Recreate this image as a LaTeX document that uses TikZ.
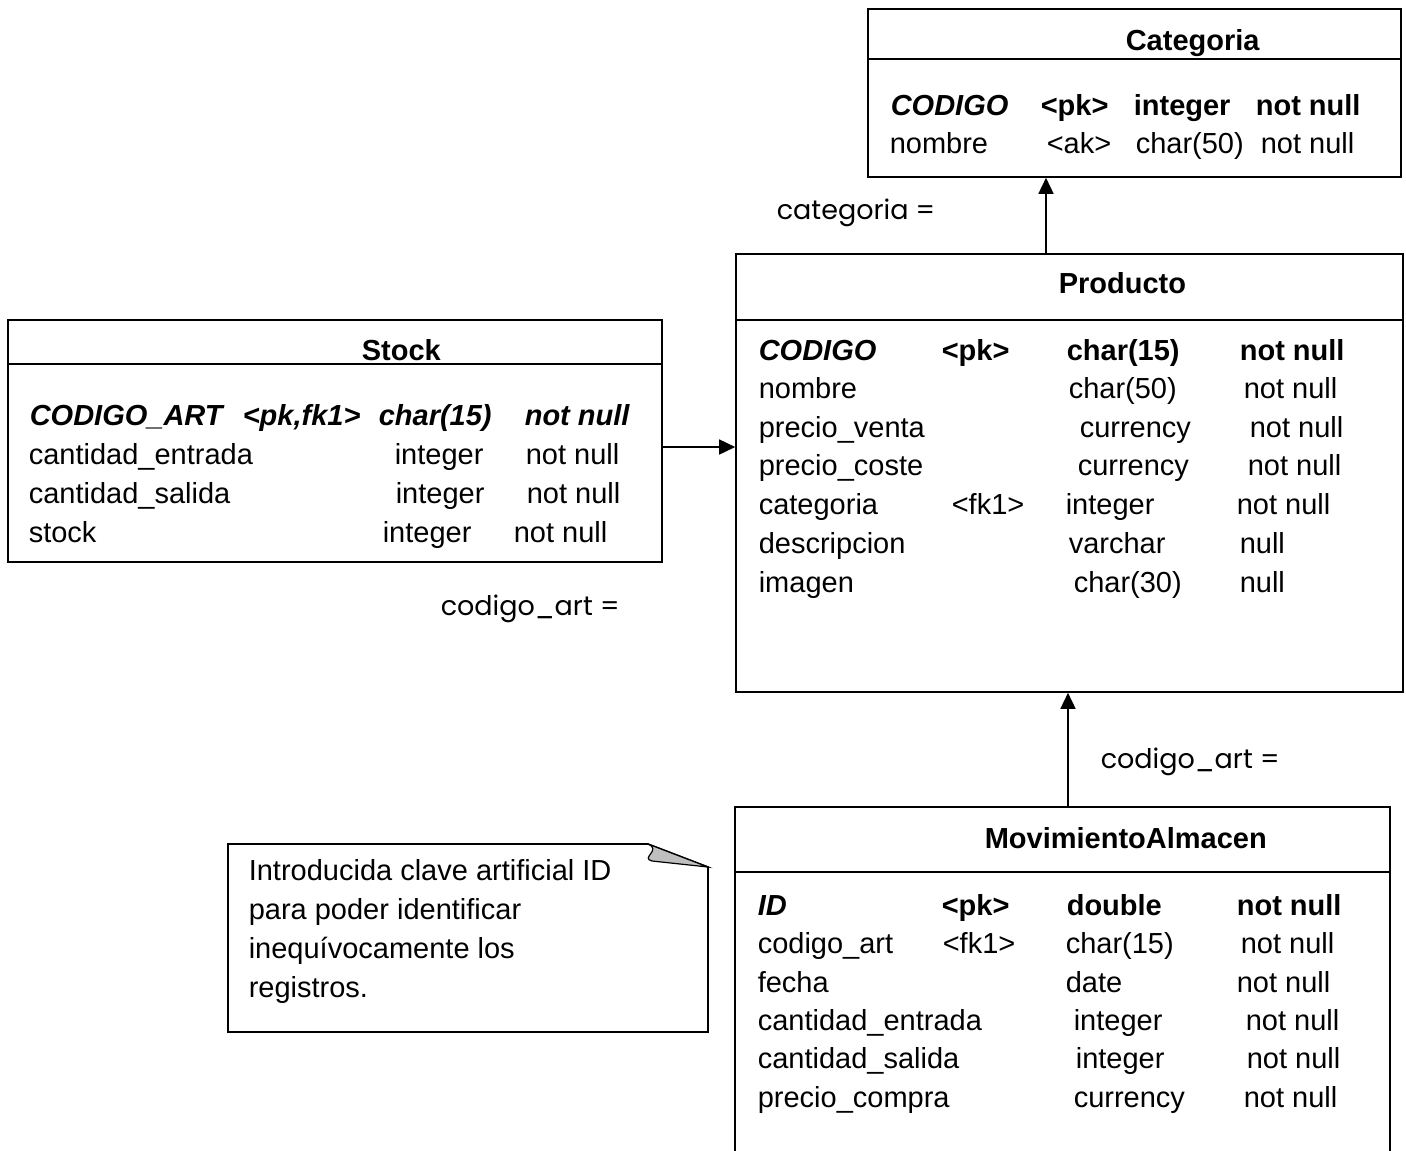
\documentclass[tikz,border=0pt]{standalone}
\usepackage{fontspec}
\setmainfont{Liberation Sans}
\newfontfamily\lblfont{Poppins}
\usetikzlibrary{arrows.meta}
\begin{document}
\begin{tikzpicture}[x=1pt,y=-1pt,line width=1.6pt,
  txt/.style={anchor=base west,inner sep=0pt,font=\fontsize{29}{35}\selectfont},
  hd/.style={anchor=base west,inner sep=0pt,font=\fontsize{29}{35}\selectfont\bfseries},
  bd/.style={anchor=base west,inner sep=0pt,font=\fontsize{29}{35}\selectfont\bfseries},
  pkit/.style={anchor=base west,inner sep=0pt,font=\fontsize{29}{35}\selectfont\bfseries\itshape},
  lbl/.style={anchor=base west,inner sep=0pt,font=\fontsize{27}{30}\selectfont\lblfont},
  tbl/.style={draw,rectangle,inner sep=0pt,line width=1.6pt},
  arr/.style={-{Triangle[length=16pt,width=15pt]},line width=1.6pt}]
\useasboundingbox[fill=white] (0,0) rectangle (1406,1151);

% ---------- Categoria ----------
\node[tbl,minimum width=533pt,minimum height=168pt] (cat) at (1134.5,93) {};
\draw (868,59) -- (1401,59);
\node[hd] (catT) at (1125,50) {Categoria};
\node[pkit] (c1a) at (890,115) {CODIGO};
\node[bd] (c1b) at (1040,115) {<pk>};
\node[bd] (c1c) at (1133,115) {integer};
\node[bd] (c1d) at (1255,115) {not null};
\node[txt] (c2a) at (889,153) {nombre};
\node[txt] (c2b) at (1046,153) {<ak>};
\node[txt] (c2c) at (1135,153) {char(50)};
\node[txt] (c2d) at (1260,153) {not null};

% ---------- Producto ----------
\node[tbl,minimum width=667pt,minimum height=438pt] (prod) at (1069.5,473) {};
\draw (736,320) -- (1403,320);
\node[hd] (prodT) at (1058,293) {Producto};
\node[pkit] (p1a) at (758,360) {CODIGO};
\node[bd] (p1b) at (941,360) {<pk>};
\node[bd] (p1c) at (1066,360) {char(15)};
\node[bd] (p1d) at (1239,360) {not null};
\node[txt] (p2a) at (758,398) {nombre};
\node[txt] (p2c) at (1068,398) {char(50)};
\node[txt] (p2d) at (1243,398) {not null};
\node[txt] (p3a) at (758,437) {precio\_venta};
\node[txt] (p3c) at (1079,437) {currency};
\node[txt] (p3d) at (1249,437) {not null};
\node[txt] (p4a) at (758,475) {precio\_coste};
\node[txt] (p4c) at (1077,475) {currency};
\node[txt] (p4d) at (1247,475) {not null};
\node[txt] (p5a) at (758,514) {categoria};
\node[txt] (p5b) at (951,514) {<fk1>};
\node[txt] (p5c) at (1065,514) {integer};
\node[txt] (p5d) at (1236,514) {not null};
\node[txt] (p6a) at (758,553) {descripcion};
\node[txt] (p6c) at (1068,553) {varchar};
\node[txt] (p6d) at (1239,553) {null};
\node[txt] (p7a) at (758,592) {imagen};
\node[txt] (p7c) at (1073,592) {char(30)};
\node[txt] (p7d) at (1239,592) {null};

% ---------- Stock ----------
\node[tbl,minimum width=654pt,minimum height=242pt] (stock) at (335,441) {};
\draw (8,364) -- (662,364);
\node[hd] (stT) at (361,360) {Stock};
\node[pkit] (s1a) at (29,425) {CODIGO\_ART};
\node[pkit] (s1b) at (242,425) {<pk,fk1>};
\node[pkit] (s1c) at (378,425) {char(15)};
\node[pkit] (s1d) at (524,425) {not null};
\node[txt] (s2a) at (28,464) {cantidad\_entrada};
\node[txt] (s2c) at (394,464) {integer};
\node[txt] (s2d) at (525,464) {not null};
\node[txt] (s3a) at (28,503) {cantidad\_salida};
\node[txt] (s3c) at (395,503) {integer};
\node[txt] (s3d) at (526,503) {not null};
\node[txt] (s4a) at (28,542) {stock};
\node[txt] (s4c) at (382,542) {integer};
\node[txt] (s4d) at (513,542) {not null};

% ---------- MovimientoAlmacen ----------
\node[rectangle,inner sep=0pt,minimum width=653pt,minimum height=344pt] (mov) at (1062.5,980) {};
\draw (mov.south west) -- (mov.north west) -- (mov.north east) -- (mov.south east);
\draw (736,872) -- (1389,872);
\node[hd] (movT) at (984,848) {MovimientoAlmacen};
\node[pkit] (m1a) at (757,915) {ID};
\node[bd] (m1b) at (941,915) {<pk>};
\node[bd] (m1c) at (1066,915) {double};
\node[bd] (m1d) at (1236,915) {not null};
\node[txt] (m2a) at (757,953) {codigo\_art};
\node[txt] (m2b) at (942,953) {<fk1>};
\node[txt] (m2c) at (1065,953) {char(15)};
\node[txt] (m2d) at (1240,953) {not null};
\node[txt] (m3a) at (757,992) {fecha};
\node[txt] (m3c) at (1065,992) {date};
\node[txt] (m3d) at (1236,992) {not null};
\node[txt] (m4a) at (757,1030) {cantidad\_entrada};
\node[txt] (m4c) at (1073,1030) {integer};
\node[txt] (m4d) at (1245,1030) {not null};
\node[txt] (m5a) at (757,1068) {cantidad\_salida};
\node[txt] (m5c) at (1075,1068) {integer};
\node[txt] (m5d) at (1246,1068) {not null};
\node[txt] (m6a) at (757,1107) {precio\_compra};
\node[txt] (m6c) at (1073,1107) {currency};
\node[txt] (m6d) at (1243,1107) {not null};

% ---------- Note ----------
\draw (228,844) -- (648,844) -- (708,867) -- (708,1032) -- (228,1032) -- cycle;
\filldraw[fill=black!25,line width=1.2pt] (648,844) .. controls (662,850) and (640,858) .. (652,861) -- (708,867) -- cycle;
\node[txt] (n1) at (248,880) {Introducida clave artificial ID};
\node[txt] (n2) at (248,919) {para poder identificar};
\node[txt] (n3) at (248,958) {inequívocamente los};
\node[txt] (n4) at (248,997) {registros.};

% ---------- Connectors ----------
\coordinate (xa) at (1046,0);
\coordinate (xb) at (1068,0);
\coordinate (ya) at (0,447);
\draw[arr] (xa |- prod.north) -- (xa |- cat.south);
\draw[arr] (ya -| stock.east) -- (ya -| prod.west);
\draw[arr] (xb |- mov.north) -- (xb |- prod.south);

\node[lbl] (l1) at (776,219) {categoria =};
\node[lbl] (l2) at (440,615) {codigo\_art =};
\node[lbl] (l3) at (1100,768) {codigo\_art =};
\end{tikzpicture}
\end{document}
